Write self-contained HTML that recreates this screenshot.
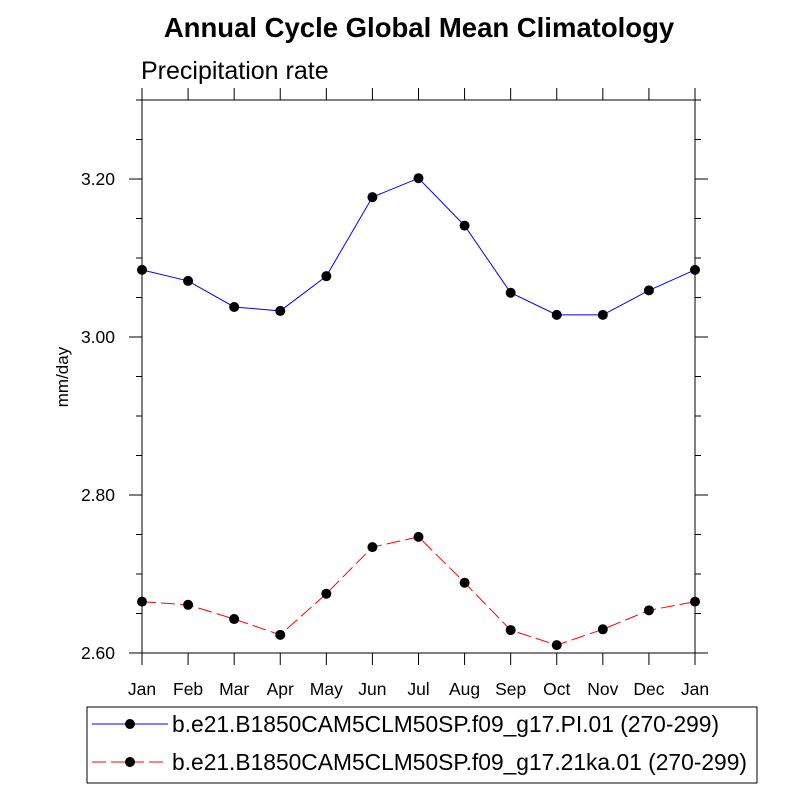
<!DOCTYPE html>
<html><head><meta charset="utf-8"><style>
body{margin:0;background:#fff}
svg{font-family:"Liberation Sans",Arial,sans-serif}
</style></head><body>
<svg id="chart" width="800" height="800" viewBox="0 0 800 800">
<rect width="800" height="800" fill="#fff"/>
<text x="419" y="37" text-anchor="middle" font-size="27.5" font-weight="bold">Annual Cycle Global Mean Climatology</text>
<text x="141" y="79" font-size="25">Precipitation rate</text>
<text transform="translate(68,377) rotate(-90)" text-anchor="middle" font-size="17">mm/day</text>
<g id="axes"></g>
<g id="series"></g>
<g>
<rect x="87" y="707" width="670" height="76" fill="#fff" stroke="#000" stroke-width="1"/>
<g>
<line x1="92" y1="724" x2="168" y2="724" stroke="#00f" stroke-width="1"/>
<circle cx="130" cy="724" r="5" fill="#000"/>
<text x="172" y="732" font-size="22.8">b.e21.B1850CAM5CLM50SP.f09_g17.PI.01 (270-299)</text>
</g>
<g>
<line x1="92" y1="762" x2="168" y2="762" stroke="#f00" stroke-width="1" stroke-dasharray="14,5"/>
<circle cx="130" cy="762" r="5" fill="#000"/>
<text x="172" y="770" font-size="22.8">b.e21.B1850CAM5CLM50SP.f09_g17.21ka.01 (270-299)</text>
</g>
</g>
</svg>
<script>
const months=["Jan","Feb","Mar","Apr","May","Jun","Jul","Aug","Sep","Oct","Nov","Dec","Jan"];
const piValues=[3.085,3.071,3.038,3.033,3.077,3.177,3.201,3.141,3.056,3.028,3.028,3.059,3.085];
const kaValues=[2.665,2.661,2.643,2.623,2.675,2.734,2.747,2.689,2.629,2.610,2.630,2.654,2.665];
const yTicks=[2.6,2.8,3.0,3.2];
const yTickLabels=["2.60","2.80","3.00","3.20"];
const yMin=2.6,yMax=3.3;
const L=142,R=695,T=100,B=653;
const NS="http://www.w3.org/2000/svg";
function xs(i){return L+(R-L)*i/(months.length-1);}
function ys(v){return B-(v-yMin)/(yMax-yMin)*(B-T);}
function mk(tag,attrs,parent){const e=document.createElementNS(NS,tag);for(const k in attrs)e.setAttribute(k,attrs[k]);parent.appendChild(e);return e;}
const axes=document.getElementById('axes');
const frame=mk('rect',{x:L,y:T,width:R-L,height:B-T,fill:'none',stroke:'#000','stroke-width':1},axes);


months.forEach((m,i)=>{
  const x=xs(i);
  mk('line',{x1:x,y1:B,x2:x,y2:B+12,stroke:'#000'},axes);
  mk('line',{x1:x,y1:T,x2:x,y2:T-12,stroke:'#000'},axes);
  const t=mk('text',{x:x,y:B+42,'text-anchor':'middle','font-size':17.5},axes);
  t.textContent=m;
  
  
});
for(let v=yMin;v<=yMax+1e-9;v+=0.05){
  const y=ys(v);
  const major=yTicks.some(t=>Math.abs(t-v)<1e-6);
  const len=major?13:6;
  mk('line',{x1:L,y1:y,x2:L-len,y2:y,stroke:'#000'},axes);
  mk('line',{x1:R,y1:y,x2:R+len,y2:y,stroke:'#000'},axes);
}
yTicks.forEach((v,i)=>{
  const t=mk('text',{x:L-27,y:ys(v)+6,'text-anchor':'end','font-size':17.5},axes);
  t.textContent=yTickLabels[i];
  
  
});
const ser=document.getElementById('series');
function draw(vals,color,dash,name){
  const g=mk('g',{},ser);
  
  
  const pts=vals.map((v,i)=>xs(i)+','+ys(v)).join(' ');
  const pl=mk('polyline',{points:pts,fill:'none',stroke:color,'stroke-width':1},g);
  if(dash)pl.setAttribute('stroke-dasharray',dash);
  vals.forEach((v,i)=>{
    const c=mk('circle',{cx:xs(i),cy:ys(v),r:5,fill:'#000'},g);
    
    
  });
}
draw(piValues,'#00f',null,'series-pi');
draw(kaValues,'#f00','14,5','series-21ka');
</script>
</body></html>
